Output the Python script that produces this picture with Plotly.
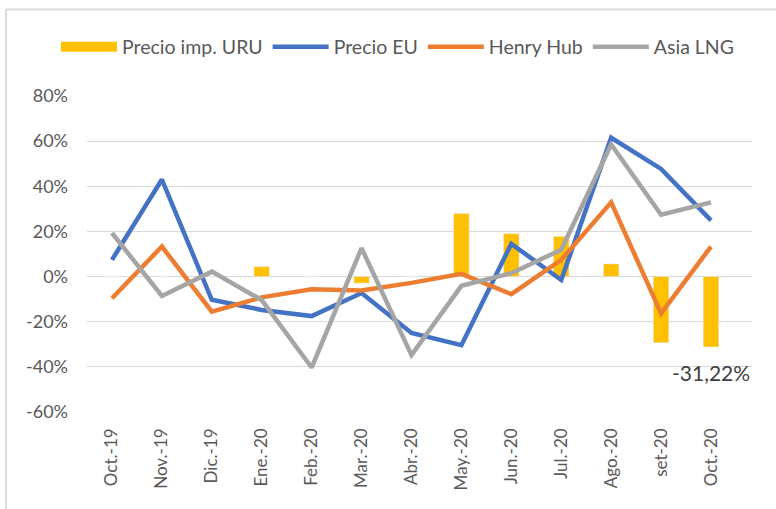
import plotly.graph_objects as go

categories = ["Oct.-19", "Nov.-19", "Dic.-19", "Ene.-20", "Feb.-20", "Mar.-20", "Abr.-20",
              "May.-20", "Jun.-20", "Jul.-20", "Ago.-20", "set-20", "Oct.-20"]
precio_uru = [0, 0, 0, 4.4, 0, -2.9, 0, 27.9, 19.0, 17.8, 5.6, -29.3, -31.22]
precio_eu = [7.4, 43.0, -10.3, -14.8, -17.5, -7.3, -25.0, -30.4, 14.5, -1.5, 61.5, 47.7, 24.9]
henry_hub = [-9.6, 13.3, -15.5, -9.2, -5.6, -6.2, -2.8, 1.2, -7.8, 7.4, 32.9, -16.3, 13.3]
asia_lng = [19.3, -8.6, 2.2, -10.4, -40.3, 12.6, -34.8, -4.1, 1.5, 11.9, 58.5, 27.4, 32.9]
y_ticks = [-60, -40, -20, 0, 20, 40, 60, 80]
y_tick_text = ["-60%", "-40%", "-20%", "0%", "20%", "40%", "60%", "80%"]
label_text = "-31,22%"

FONT = "Lato"
GREY_TXT = "#595959"

fig = go.Figure()
fig.add_trace(go.Bar(x=categories, y=precio_uru, name="Precio imp. URU",
                     marker_color="#FFC000", width=0.31, showlegend=False))
# legend entry for the bars (wide rectangle like the original)
fig.add_trace(go.Scatter(x=[None], y=[None], name="Precio imp. URU", mode="lines",
                         line=dict(color="#FFC000", width=11)))
fig.add_trace(go.Scatter(x=categories, y=precio_eu, name="Precio EU", mode="lines",
                         line=dict(color="#4472C4", width=4.5)))
fig.add_trace(go.Scatter(x=categories, y=henry_hub, name="Henry Hub", mode="lines",
                         line=dict(color="#ED7D31", width=4.5)))
fig.add_trace(go.Scatter(x=categories, y=asia_lng, name="Asia LNG", mode="lines",
                         line=dict(color="#A5A5A5", width=4.5)))

fig.add_annotation(x=categories[-1], y=precio_uru[-1], text=label_text, showarrow=False,
                   yanchor="top", yshift=-11, font=dict(family=FONT, size=21, color="#404040"))

# chart border (top and left edges visible in the original)
bx = (6 - 87) / 665
by_top = 1 + (96 - 9.5) / 316
fig.add_shape(type="line", xref="paper", yref="paper", x0=bx, x1=(776 - 87) / 665,
              y0=by_top, y1=by_top, line=dict(color="#D9D9D9", width=2))
fig.add_shape(type="line", xref="paper", yref="paper", x0=bx, x1=bx,
              y0=by_top, y1=(412 - 509) / 316, line=dict(color="#D9D9D9", width=2))

fig.update_layout(
    width=776, height=509,
    margin=dict(l=87, r=24, t=96, b=97, autoexpand=False),
    paper_bgcolor="white", plot_bgcolor="white",
    font=dict(family=FONT, color=GREY_TXT, size=18),
    showlegend=True,
    legend=dict(orientation="h", x=(56 - 87) / 665, xanchor="left",
                y=1 + (96 - 47) / 316, yanchor="middle",
                font=dict(size=19.5, color=GREY_TXT), itemwidth=56, traceorder="normal",
                tracegroupgap=0),
)
fig.update_xaxes(tickangle=-90, showgrid=False, showline=False, ticks="",
                 tickfont=dict(size=17, color=GREY_TXT), ticklabelstandoff=12)
fig.update_yaxes(range=[-60, 80], tickmode="array", tickvals=y_ticks, ticktext=y_tick_text,
                 showgrid=True, gridcolor="#D9D9D9", gridwidth=1.3, zeroline=True,
                 zerolinecolor="#D9D9D9", zerolinewidth=1.3, showline=False,
                 tickfont=dict(size=18, color=GREY_TXT), ticklabelstandoff=18)

fig.write_html("out.html", config={"displayModeBar": False},
               post_script="document.body.style.margin='0';")
